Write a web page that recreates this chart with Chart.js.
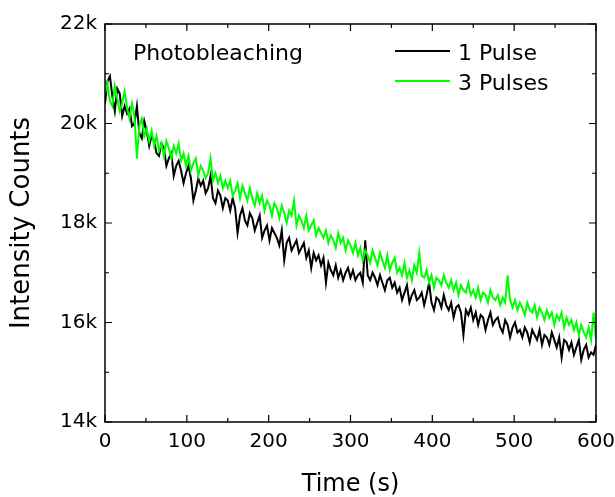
<!DOCTYPE html>
<html><head><meta charset="utf-8">
<script src="https://cdn.jsdelivr.net/npm/chart.js@4.4.0/dist/chart.umd.min.js"></script>
<style>html,body{margin:0;padding:0;background:#fff;overflow:hidden;} canvas{display:block;}</style>
</head><body>
<canvas id="c" width="615" height="497" style="width:615px;height:497px"></canvas>
<script>
const timeStep = 3; // seconds between samples
const onePulse = [
20400,20850,20950,20550,20250,20700,20600,20150,20350,20200,
20300,19950,20000,20350,19800,19700,20050,19850,19550,19750,
19650,19400,19350,19600,19500,19150,19300,19400,18950,19150,
19250,19050,18800,19000,19150,18900,18450,18650,18900,18750,
18850,18600,18700,18950,18500,18400,18650,18550,18300,18500,
18450,18250,18500,18300,17800,18150,18300,18050,17950,18200,
18100,17850,18000,18150,17700,17850,17950,17650,17900,17800,
17700,17550,17850,17250,17600,17700,17450,17550,17650,17400,
17500,17600,17300,17450,17100,17400,17250,17350,17150,17300,
16800,17200,17050,16950,17150,16900,17050,16850,17000,17100,
16900,17050,16850,16950,17000,16800,17650,16950,16850,17000,
16900,16750,16950,16800,16650,16850,16900,16700,16800,16600,
16700,16450,16600,16750,16400,16550,16650,16450,16500,16600,
16350,16550,16800,16400,16250,16500,16450,16300,16550,16350,
16250,16400,16100,16300,16350,16200,15750,16250,16150,16300,
16050,16200,15950,16150,16100,15850,16050,16200,15950,16050,
16100,15900,15800,16050,15950,15700,15900,16000,15800,15850,
15700,15900,15800,15600,15850,15750,15650,15850,15550,15750,
15700,15550,15800,15650,15500,15700,15300,15650,15600,15450,
15600,15350,15500,15650,15250,15450,15550,15300,15400,15350,
15550];
const threePulses = [
20600,20800,20450,20350,20750,20500,20250,20400,20650,20300,
20100,20400,20150,19300,19950,20100,19750,19900,19650,19850,
19550,19750,19450,19600,19350,19650,19500,19300,19550,19400,
19600,19250,19400,19150,19350,19050,19200,19300,18950,19150,
19050,18900,19000,19300,18850,19000,18800,18950,18700,18850,
18700,18850,18550,18650,18800,18500,18750,18600,18450,18700,
18500,18350,18600,18400,18550,18250,18450,18350,18150,18400,
18300,18100,18350,18200,18000,18250,18150,18450,17950,18150,
18050,17900,18150,17850,17950,18050,17750,17900,17800,17700,
17850,17600,17750,17650,17500,17800,17600,17700,17450,17650,
17550,17400,17600,17350,17500,17250,17450,17350,17200,17450,
17300,17150,17400,17250,17100,17350,17050,17200,17300,17000,
17100,16950,17200,16900,17050,16850,17150,17000,17400,16950,
16900,17050,16800,16950,16700,16900,16850,16750,16950,16800,
16700,16850,16650,16800,16550,16750,16650,16600,16800,16550,
16650,16500,16700,16450,16600,16550,16400,16650,16500,16450,
16550,16350,16500,16400,16950,16450,16300,16450,16250,16400,
16300,16150,16400,16250,16200,16350,16100,16300,16200,16050,
16250,16100,16200,15950,16150,16050,16200,15900,16100,15950,
16050,15850,16000,15750,15950,15800,15700,15900,15650,16200,
15650];
const times = onePulse.map((_, i) => i * timeStep);
const seriesNames = ['1 Pulse', '3 Pulses'];
const seriesColors = ['#000000', '#00ff00'];
const annotationText = 'Photobleaching';
const xTitle = 'Time (s)';
const yTitle = 'Intensity Counts';

const FONT = "'DejaVu Sans', 'Liberation Sans', Arial, sans-serif";
Chart.defaults.font.family = FONT;
Chart.defaults.color = '#000';

const frameTicks = {
  id: 'frameTicks',
  afterDatasetsDraw(chart) {
    const {ctx, chartArea: a, scales: {x, y}} = chart;
    ctx.save();
    ctx.strokeStyle = '#000';
    ctx.lineWidth = 1.5;
    ctx.strokeRect(a.left, a.top, a.right - a.left, a.bottom - a.top);
    ctx.lineWidth = 1.2;
    ctx.beginPath();
    for (let v = 0; v <= 600; v += 50) {
      const px = x.getPixelForValue(v);
      const len = (v % 100 === 0) ? 7 : 4;
      ctx.moveTo(px, a.bottom); ctx.lineTo(px, a.bottom - len);
      ctx.moveTo(px, a.top); ctx.lineTo(px, a.top + len);
    }
    for (let v = 14000; v <= 22000; v += 1000) {
      const py = y.getPixelForValue(v);
      const len = (v % 2000 === 0) ? 7 : 4;
      ctx.moveTo(a.left, py); ctx.lineTo(a.left + len, py);
      ctx.moveTo(a.right, py); ctx.lineTo(a.right - len, py);
    }
    ctx.stroke();
    // annotation and legend
    ctx.font = "22px " + FONT;
    ctx.fillStyle = '#000';
    ctx.textBaseline = 'alphabetic';
    ctx.textAlign = 'left';
    ctx.fillText(annotationText, 133, 60);
    const rows = [51, 81];
    chart.data.datasets.forEach((ds, i) => {
      ctx.strokeStyle = ds.borderColor;
      ctx.lineWidth = 2;
      ctx.beginPath();
      ctx.moveTo(395, rows[i]); ctx.lineTo(450, rows[i]);
      ctx.stroke();
      ctx.fillText(ds.label, 458, rows[i] + 9);
    });
    ctx.restore();
  }
};

new Chart(document.getElementById('c'), {
  type: 'line',
  data: {
    datasets: [
      { label: seriesNames[0], data: times.map((t, i) => ({x: t, y: onePulse[i]})),
        borderColor: seriesColors[0], borderWidth: 2, pointRadius: 0, tension: 0, order: 2 },
      { label: seriesNames[1], data: times.map((t, i) => ({x: t, y: threePulses[i]})),
        borderColor: seriesColors[1], borderWidth: 2, pointRadius: 0, tension: 0, order: 1 }
    ]
  },
  options: {
    responsive: false,
    animation: false,
    devicePixelRatio: 1,
    layout: { padding: { top: 24, right: 19, left: 0, bottom: 0 } },
    plugins: { legend: { display: false }, tooltip: { enabled: false } },
    scales: {
      x: {
        type: 'linear', min: 0, max: 600,
        grid: { display: false, drawTicks: false },
        border: { display: false },
        ticks: { stepSize: 100, padding: 8, font: { size: 20 }, maxRotation: 0 },
        title: { display: true, text: xTitle, font: { size: 24, lineHeight: 1 }, padding: { top: 0, bottom: 0 } },
        afterFit(s) { s.height = 75; s.paddingLeft = 0; s.paddingRight = 0; }
      },
      y: {
        min: 14000, max: 22000,
        grid: { display: false, drawTicks: false },
        border: { display: false },
        ticks: { stepSize: 2000, padding: 8, font: { size: 20 }, callback: v => (v / 1000) + 'k' },
        title: { display: true, text: yTitle, font: { size: 26, lineHeight: 1 }, padding: { top: 9, bottom: 0 } },
        afterFit(s) { s.width = 105; s.paddingTop = 0; s.paddingBottom = 0; }
      }
    }
  },
  plugins: [frameTicks]
});
</script>
</body></html>
